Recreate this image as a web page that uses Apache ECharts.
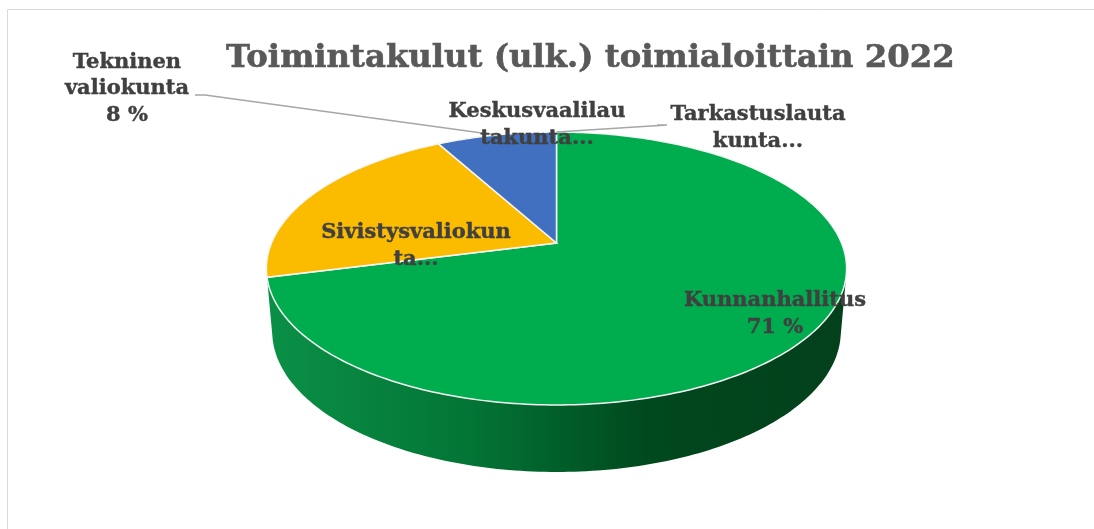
<!DOCTYPE html>
<html>
<head>
<meta charset="utf-8">
<style>
	html, body { margin: 0; padding: 0; background: #fff; }
	#chart { width: 1094px; height: 529px; }
</style>
<script src="https://cdn.jsdelivr.net/npm/echarts@6/dist/echarts.min.js"></script>
</head>
<body>
<div id="chart"></div>
<script>
// arvot luettu kuvasta, myotapaivaan klo 12 alkaen
const categories = ['Kunnanhallitus', 'Sivistysvaliokunta', 'Tekninen valiokunta', 'Keskusvaalilautakunta', 'Tarkastuslautakunta']
const values = [71, 21, 8, 0, 0]
const labelLines = [
	['Kunnanhallitus', '71 %'],
	['Sivistysvaliokun', 'ta...'],
	['Tekninen', 'valiokunta', '8 %'],
	['Keskusvaalilau', 'takunta...'],
	['Tarkastuslauta', 'kunta...']
]
const sliceColors = ['#00AD4E', '#FBBC00', '#4170C0', '#4170C0', '#4170C0']
const titleText = 'Toimintakulut (ulk.) toimialoittain 2022'

// tyylit ja sijainnit
const labelFont = 'bold 21px "DejaVu Serif"'
const labelCenters = [[775, 314], [416, 246], [127, 89], [537, 125], [758, 128]]
const leaderStarts = [null, null, [195, 95], null, [657, 125]]
const LINE_H = 26.5

// perspektiivi: ylakansi ja pohja
const CX = 556.5
const K = 0.1868
const TOP = { a: 285, b: 131.7, y: 243 }
const BOTTOM = { a: 279.3, b: 135.8, y: 305 }
const FRONT = [104, 256]

const project = (deg, layer) => {
	const t = deg * Math.PI / 180
	const w = 1 + K * Math.cos(t)
	return [CX + layer.a * Math.sin(t) / w, layer.y - layer.b * Math.cos(t) / w]
}

const arc = (from, to, layer) => {
	const pts = []
	for (let d = from; d < to; d += 1) pts.push(project(d, layer))
	pts.push(project(to, layer))
	return pts
}

const total = values.reduce((s, v) => s + v, 0)
const starts = []
values.reduce((s, v, i) => {
	starts[i] = s
	return s + v / total * 360
}, 0)

const renderSide = (params, api) => {
	const from = Math.max(starts[params.dataIndex], FRONT[0])
	const to = Math.min(starts[params.dataIndex] + api.value(0) / total * 360, FRONT[1])
	if (to - from < 1) return null
	return {
		type: 'polygon',
		shape: { points: arc(from, to, TOP).concat(arc(from, to, BOTTOM).reverse()) },
		style: {
			fill: new echarts.graphic.LinearGradient(0, 0, 1, 0, [
				{ offset: 0, color: '#0A9046' },
				{ offset: 0.35, color: '#037535' },
				{ offset: 0.66, color: '#00481E' },
				{ offset: 1, color: '#03401B' }
			])
		}
	}
}

const renderTop = (params, api) => {
	const sweep = api.value(0) / total * 360
	if (!sweep) return null
	const from = starts[params.dataIndex]
	return {
		type: 'polygon',
		shape: { points: [[CX, TOP.y]].concat(arc(from, from + sweep, TOP)) },
		style: { fill: sliceColors[params.dataIndex], stroke: '#F5F5F5', lineWidth: 1.5 }
	}
}

const renderLabel = (params, api) => {
	const i = params.dataIndex
	const children = []
	if (leaderStarts[i]) {
		const s = leaderStarts[i]
		const sweep = api.value(0) / total * 360
		children.push({
			type: 'polyline',
			shape: { points: [s, [s[0] + 10, s[1]], project(starts[i] + sweep / 2, TOP)] },
			style: { fill: null, stroke: '#A6A6A6', lineWidth: 1.5 }
		})
	}
	const c = labelCenters[i]
	const lines = labelLines[i]
	lines.forEach((txt, n) => {
		children.push({
			type: 'text',
			style: {
				text: txt,
				x: c[0],
				y: c[1] + (n - (lines.length - 1) / 2) * LINE_H,
				align: 'center',
				verticalAlign: 'middle',
				font: labelFont,
				fill: '#404040',
				stroke: '#404040',
				lineWidth: 0.4
			}
		})
	})
	return { type: 'group', children }
}

const seriesData = categories.map((name, i) => ({ name, value: [values[i]] }))
const customSeries = (renderItem, z) => ({
	type: 'custom',
	coordinateSystem: 'none',
	renderItem,
	data: seriesData,
	z,
	silent: true,
	clip: false
})

const myChart = echarts.init(document.getElementById('chart'), null, { renderer: 'canvas' })
myChart.setOption({
	animation: false,
	backgroundColor: '#fff',
	title: {
		text: titleText,
		left: 221,
		top: 38,
		textStyle: {
			fontFamily: 'DejaVu Serif',
			fontWeight: 'bold',
			fontSize: 32.3,
			color: '#595959',
			textBorderColor: '#595959',
			textBorderWidth: 0.6
		}
	},
	graphic: [
		{ type: 'line', shape: { x1: 7.5, y1: 9.5, x2: 1094, y2: 9.5 }, style: { stroke: '#D9D9D9', lineWidth: 1 } },
		{ type: 'line', shape: { x1: 7.5, y1: 9.5, x2: 7.5, y2: 529 }, style: { stroke: '#D9D9D9', lineWidth: 1 } }
	],
	series: [
		customSeries(renderSide, 1),
		customSeries(renderTop, 2),
		customSeries(renderLabel, 3)
	]
})
</script>
</body>
</html>
